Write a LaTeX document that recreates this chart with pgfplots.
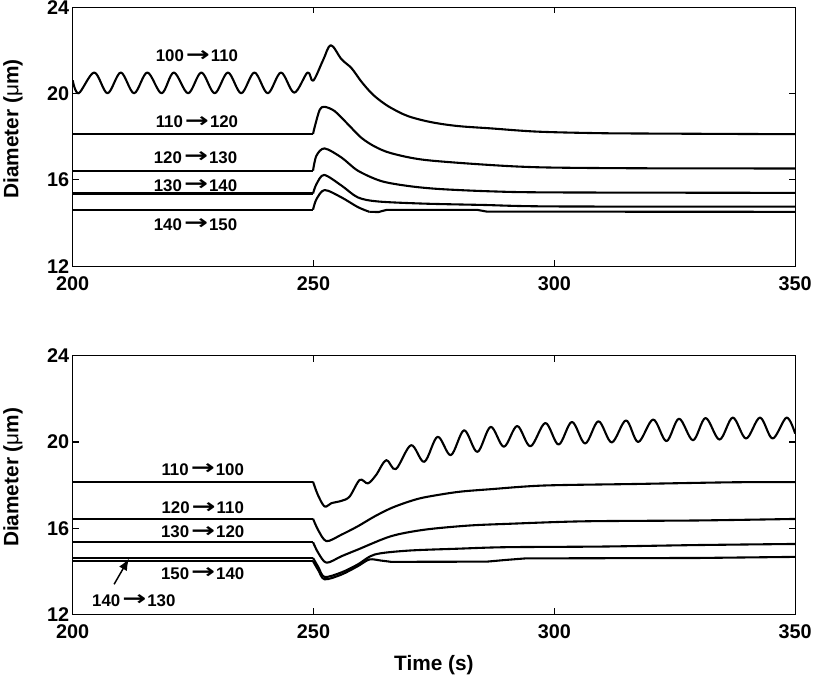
\documentclass[border=0pt]{standalone}
\usepackage{fontspec}
\setmainfont{Liberation Sans}
\newfontfamily\arrowfont{DejaVu Sans}
\usepackage{graphicx}
\usepackage{pgfplots}
\pgfplotsset{compat=1.18}
\usetikzlibrary{arrows.meta}
\newcommand{\ra}{\hspace{0.12em}\raisebox{0.02em}{\scalebox{1.7}[1.2]{\arrowfont\bfseries →}}\hspace{0.06em}}
\tikzset{lab/.style={font=\fontsize{17}{17}\selectfont\bfseries},
  ln/.style={black, solid, line width=2.1bp, mark=none, line join=round},
  sm/.style={ln, smooth, tension=0.5}}
\pgfplotsset{
  myax/.style={
    width=726bp, height=260bp, scale only axis,
    xmin=200, xmax=350, ymin=12, ymax=24,
    xtick={200,250,300,350}, ytick={12,16,20,24},
    tick align=inside, major tick length=6bp,
    axis line style={line width=1.1bp},
    every tick/.style={line width=1.1bp, black},
    /pgf/number format/assume math mode=true,
    tick label style={font=\fontsize{20}{20}\selectfont\bfseries},
    xticklabel style={inner ysep=1bp, yshift=-9.5bp},
    yticklabel style={inner ysep=0.5bp},
    label style={font=\fontsize{21}{21}\selectfont\bfseries},
    ylabel={Diameter ({\mdseries μ}m)},
    ylabel style={at={(axis description cs:-0.0826,0.53)}, anchor=center},
  },
}
\begin{document}
\begin{tikzpicture}
% ---------------- top panel ----------------
\begin{axis}[myax]
\addplot[sm, tension=0.55] coordinates {
(200,20.62)(201.24,20.02)(204.48,20.98)(207.23,20.02)(209.99,20.98)(212.74,20.02)
(215.5,20.98)(218.46,20.02)(221.0,20.98)(223.97,20.02)(226.72,20.98)(229.48,20.02)
(232.23,20.98)(234.99,20.02)(237.74,20.98)(240.5,20.02)(243.25,20.98)(246.0,20.05)
(248.76,20.98)(249.93,20.6)(252,21.56)(253.6,22.25)(255.8,21.6)(257.9,21.18)
(259.9,20.57)(262,20.03)(264,19.65)(266.1,19.34)(269.6,18.96)(274.4,18.68)
(279.9,18.5)(286.8,18.39)(296.4,18.24)(308.8,18.17)(320,18.15)(350,18.12)};
\addplot[ln] coordinates {(200,18.13)(249.9,18.13)};
\addplot[sm] coordinates {
(249.9,18.13)(250.3,18.5)(251.3,19.26)(252.3,19.39)(254.4,19.19)(257.2,18.57)
(259.9,17.96)(262.7,17.55)(266.1,17.24)(273,16.93)(286.8,16.69)(297.8,16.58)
(317.8,16.54)(350,16.53)};
\addplot[ln] coordinates {(200,16.43)(249.9,16.43)};
\addplot[sm] coordinates {
(249.9,16.43)(250.6,17.12)(252.3,17.46)(255.8,17.04)(259.2,16.43)(264,15.95)
(269.6,15.72)(276,15.58)(286.8,15.47)(300,15.42)(350,15.40)};
\addplot[ln] coordinates {(200,15.37)(249.9,15.37)};
\addplot[sm] coordinates {
(249.9,15.37)(250.6,15.8)(252.2,16.23)(255.8,15.74)(259.2,15.19)(263.4,15.0)
(273,14.9)(285,14.84)(300,14.77)(350,14.76)};
\addplot[ln] coordinates {(200,14.62)(249.9,14.62)};
\addplot[sm] coordinates {
(249.9,14.62)(250.6,15.1)(252.3,15.53)(255.8,15.19)(259.2,14.74)(261.6,14.52)};
\addplot[ln] coordinates {
(261.6,14.52)(263.5,14.51)(264.3,14.56)(265.2,14.61)(284,14.61)(286,14.53)(350,14.52)};
\node[lab] at (axis cs:225.8,21.75) {100\ra110};
\node[lab] at (axis cs:225.8,18.68) {110\ra120};
\node[lab] at (axis cs:225.5,17.04) {120\ra130};
\node[lab] at (axis cs:225.5,15.74) {130\ra140};
\node[lab] at (axis cs:225.5,13.94) {140\ra150};
\end{axis}
% ---------------- bottom panel ----------------
\begin{axis}[myax, at={(0,-350bp)},
  xlabel={Time (s)},
  xlabel style={at={(axis description cs:0.5,-0.196)}, anchor=center}]
\addplot[ln] coordinates {(200,18.16)(249.9,18.16)};
\addplot[sm, tension=0.55] coordinates {
(249.9,18.16)(250.9,17.55)(252.3,17.01)(253.7,17.16)(255.8,17.27)(257.5,17.47)
(259.6,18.24)(261.3,18.08)(263,18.47)(265.1,19.16)(267.1,18.74)(270.25,19.85)
(273.0,19.08)(275.76,20.24)(278.51,19.39)(281.27,20.54)(284.02,19.54)(286.78,20.70)
(289.53,19.78)(292.29,20.74)(295.04,19.80)(298.14,20.88)(300.89,19.88)(303.65,20.93)
(306.4,19.93)(309.16,20.96)(311.92,19.98)(314.88,21.0)(317.42,20.0)(320.52,21.04)
(323.28,20.04)(325.89,21.08)(328.79,20.08)(331.4,21.11)(334.3,20.11)(337.05,21.13)
(339.81,20.16)(342.7,21.13)(345.32,20.16)(348.21,21.13)(350,20.39)};
\addplot[ln] coordinates {(200,16.44)(249.9,16.44)};
\addplot[sm] coordinates {
(249.9,16.44)(251,15.9)(252.7,15.40)(255.8,15.7)(259.2,16.09)(262.7,16.55)
(266.1,16.93)(269.6,17.22)(273,17.43)(279.9,17.68)(286.8,17.81)(297.8,17.98)
(316.4,18.05)(337,18.13)(350,18.14)};
\addplot[ln] coordinates {(200,15.35)(249.9,15.35)};
\addplot[sm] coordinates {
(249.9,15.35)(251,14.85)(252.7,14.4)(255.8,14.7)(259.2,15.01)(266.1,15.63)
(273,15.93)(282,16.12)(290,16.2)(306.1,16.32)(330,16.36)(350,16.43)};
\addplot[ln] coordinates {(200,14.62)(249.9,14.62)};
\addplot[sm] coordinates {
(249.9,14.62)(251,14.2)(252.3,13.74)(255.8,13.95)(259.2,14.32)(262.7,14.78)
(269.6,14.96)(280,15.05)(290,15.12)(310,15.15)(330,15.22)(350,15.27)};
\addplot[ln] coordinates {(200,14.47)(249.9,14.47)};
\addplot[sm] coordinates {
(249.9,14.47)(251,14.05)(252.3,13.63)(255.8,13.85)(259.2,14.24)(261.6,14.55)
(264,14.5)(266.1,14.44)};
\addplot[ln] coordinates {
(266.1,14.44)(286,14.45)(290,14.53)(294,14.6)(330,14.62)(350,14.67)};
\node[lab] at (axis cs:227,18.73) {110\ra100};
\node[lab] at (axis cs:227,16.93) {120\ra110};
\node[lab] at (axis cs:227,15.83) {130\ra120};
\node[lab] at (axis cs:227,13.9) {150\ra140};
\node[lab] at (axis cs:212.7,12.66) {140\ra130};
\draw[line width=1.5bp, -{Latex[length=12bp,width=9bp]}] (axis cs:208.6,13.4) -- (axis cs:211.7,14.6);
\end{axis}
\end{tikzpicture}
\end{document}
